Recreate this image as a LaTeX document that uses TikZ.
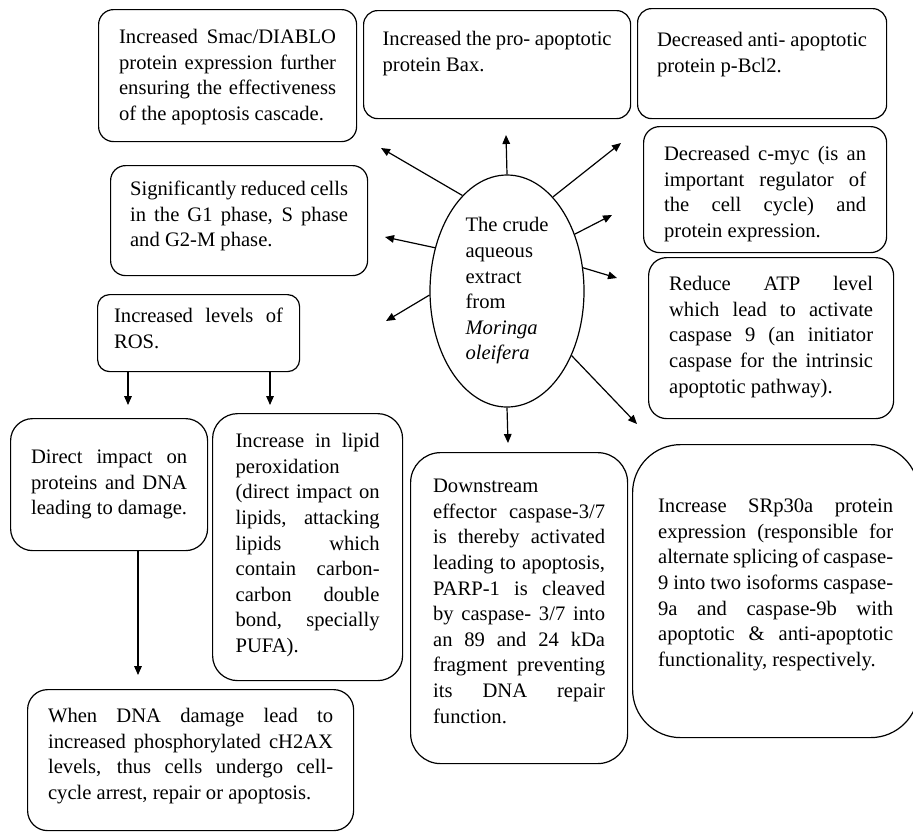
\documentclass[tikz,border=0pt]{standalone}
\usepackage{fontspec}
\setmainfont{Liberation Serif}
\usepackage{tikz}
\usetikzlibrary{shapes.geometric, arrows.meta, positioning, calc}

\begin{document}
\begin{tikzpicture}[
  x=0.5pt, y=-0.5pt,
  every node/.style={font=\fontsize{10.3}{12.8}\selectfont},
  box/.style={rectangle, draw, line width=0.6pt, anchor=north west,
              inner sep=0pt, align=justify},
  hub/.style={ellipse, draw, line width=0.6pt, inner sep=0pt, align=left,
              minimum width=77pt, minimum height=116pt},
  arr/.style={-{Triangle[length=4.5pt, width=3.8pt]}, line width=0.6pt},
]
  \useasboundingbox (0,0) rectangle (913,832);
  \hyphenpenalty=10000

  \node[hub] (extract) at (507,291) {The crude\\aqueous\\extract\\from\\\textit{Moringa}\\\textit{oleifera}};

  % top row
  \node[box, rounded corners=7.5pt, minimum width=129pt, text width=108.5pt,
        text height=17pt, text depth=49pt] (smac) at (98,9)
        {Increased Smac/DIABLO\linebreak protein expression further\linebreak ensuring the effectiveness\linebreak of the apoptosis cascade.};
  \node[box, rounded corners=7pt, minimum width=133.5pt, text width=114.5pt,
        text height=17.5pt, text depth=36.5pt] (bax) at (363,10)
        {Increased the pro- apoptotic\linebreak protein Bax.};
  \node[box, rounded corners=7pt, minimum width=124.5pt, text width=105pt,
        text height=19pt, text depth=36pt] (bcl) at (637,8)
        {Decreased anti- apoptotic\linebreak protein p-Bcl2.};

  % right column
  \node[box, rounded corners=8pt, minimum width=121.5pt, text width=101pt,
        text height=17pt, text depth=46pt] (myc) at (643,126)
        {Decreased c-myc (is an\linebreak important regulator of\linebreak the cell cycle) and\linebreak protein expression.};
  \node[box, rounded corners=9pt, minimum width=122.5pt, text width=102pt,
        text height=16.5pt, text depth=64pt] (atp) at (648,257)
        {Reduce ATP level\linebreak which lead to activate\linebreak caspase 9 (an initiator\linebreak caspase for the intrinsic\linebreak apoptotic pathway).};

  % left column
  \node[box, rounded corners=7.5pt, minimum width=128.5pt, text width=109pt,
        text height=15pt, text depth=40pt] (phase) at (110,165)
        {Significantly reduced cells\linebreak in the G1 phase, S phase\linebreak and G2-M phase.};
  \node[box, rounded corners=6pt, minimum width=101pt, text width=84.5pt,
        text height=14pt, text depth=24.5pt] (ros) at (97,294)
        {Increased levels of\linebreak ROS.};

  % lower row
  \node[box, rounded corners=11pt, minimum width=98.5pt, text width=78pt,
        text height=22.5pt, text depth=43.5pt] (direct) at (10,418)
        {Direct impact on\linebreak proteins and DNA\linebreak leading to damage.};
  \node[box, rounded corners=12.5pt, minimum width=95pt, text width=72pt,
        text height=17pt, text depth=116.5pt] (lipid) at (212,413)
        {Increase in lipid\linebreak peroxidation\newline (direct impact on\linebreak lipids, attacking\linebreak lipids which\linebreak contain carbon-\linebreak carbon double\linebreak bond, specially\linebreak PUFA).};
  \node[box, rounded corners=15pt, minimum width=108.5pt, text width=86pt,
        text height=20pt, text depth=135.5pt] (caspase) at (410,452)
        {Downstream\newline effector caspase-3/7\linebreak is thereby activated\linebreak leading to apoptosis,\linebreak PARP-1 is cleaved\linebreak by caspase- 3/7 into\linebreak an 89 and 24 kDa\linebreak fragment preventing\linebreak its DNA repair\linebreak function.};
  \node[box, rounded corners=24pt, minimum width=143pt, text width=117.5pt,
        text height=34pt, text depth=112.5pt] (srp) at (632,444)
        {Increase SRp30a protein\linebreak expression (responsible for\linebreak alternate splicing of caspase-\linebreak 9 into two isoforms caspase-\linebreak 9a and caspase-9b with\linebreak apoptotic \& anti-apoptotic\linebreak functionality, respectively.};
  \node[box, rounded corners=10pt, minimum width=163pt, text width=142.5pt,
        text height=16.5pt, text depth=54pt] (gamma) at (27,689)
        {When DNA damage lead to\linebreak increased phosphorylated cH2AX\linebreak levels, thus cells undergo cell-\linebreak cycle arrest, repair or apoptosis.};

  % arrow tips
  \coordinate (tSmac) at (381,148);
  \coordinate (tBax)  at (506,135);
  \coordinate (tBcl)  at (621,143);
  \coordinate (tMyc)  at (612,215);
  \coordinate (tAtp)  at (617,278);
  \coordinate (tSrp)  at (637,424);
  \coordinate (tCasp) at (508,443);
  \coordinate (tPhase) at (385,237);
  \coordinate (tRos)  at (386,321);
  \coordinate (tDirect) at (128,405);
  \coordinate (tLipid)  at (270,405);
  \coordinate (tGamma)  at (138,675);

  % Arrows
  \draw[arr] (extract.115) -- (tSmac);
  \draw[arr] (extract.north) -- (tBax);
  \draw[arr] (extract.64) -- (tBcl);
  \draw[arr] (extract.40) -- (tMyc);
  \draw[arr] (extract.17) -- (tAtp);
  \draw[arr] (extract.-45) -- (tSrp);
  \draw[arr] (extract.south) -- (tCasp);
  \draw[arr] (extract.149) -- (tPhase);
  \draw[arr] (extract.183) -- (tRos);
  \draw[arr] (ros.south -| tDirect) -- (tDirect);
  \draw[arr] (ros.south -| tLipid) -- (tLipid);
  \draw[arr] (direct.south -| tGamma) -- (tGamma);
\end{tikzpicture}
\end{document}
